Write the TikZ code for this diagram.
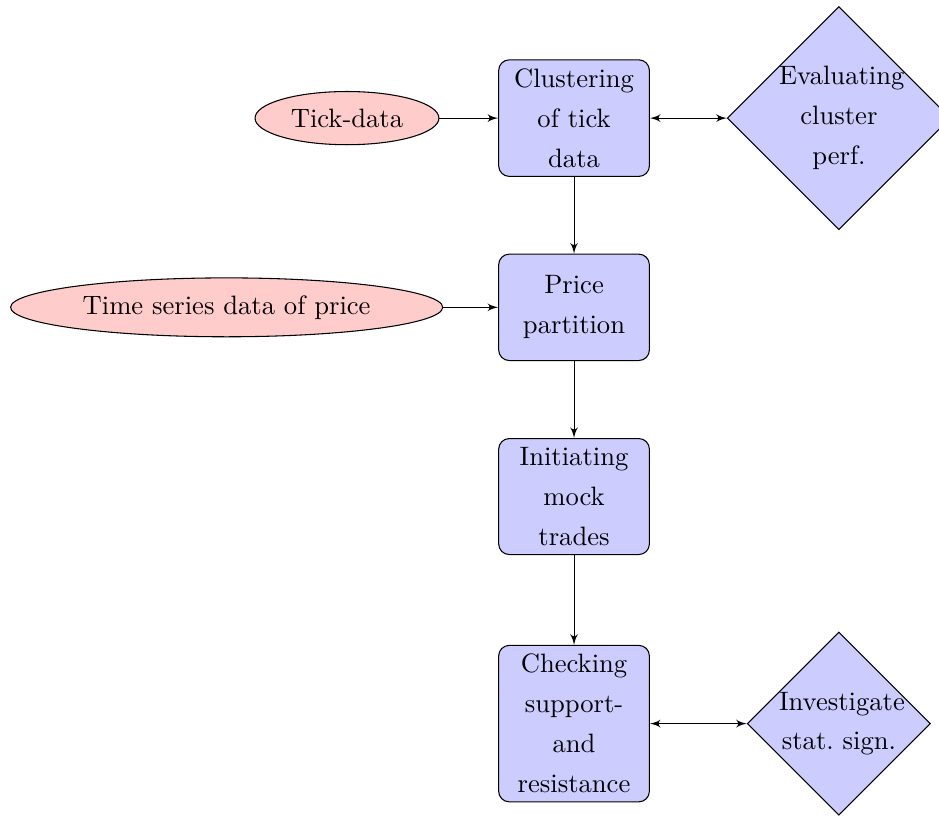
\documentclass[tikz,border=0pt]{standalone}
\usepackage[onehalfspacing]{setspace}
\usetikzlibrary{shapes.geometric,arrows,positioning}

% flowchart styles
\tikzset{
    block/.style={rectangle, draw, fill=blue!20, text width=5em, align=center,
        rounded corners, minimum height=4em},
    decision/.style={diamond, draw, fill=blue!20, text width=4.5em, align=center,
        inner sep=0pt},
    cloud/.style={draw, ellipse, fill=red!20, minimum height=2em},
    line/.style={draw, -latex'},
    twoway/.style={draw, latex'-latex'}
}

\begin{document}
\begin{tikzpicture}[node distance=2.5cm, on grid]
    \useasboundingbox (-215.8pt,-262pt) rectangle (137.2pt,44.4pt);
    % main column
    \node [block] (cluster) {Clustering of tick data};
    \node [block, below=of cluster] (partition) {Price partition};
    \node [block, below=of partition] (trades) {Initiating mock trades};
    \node [block, below=3cm of trades] (support) {Checking support- and resistance};
    % inputs
    \node [cloud, left=3cm of cluster] (tick) {Tick-data};
    \node [cloud, left=4.59cm of partition] (series) {Time series data of price};
    % checks
    \node [decision, right=3.5cm of cluster] (evaluate) {Evaluating cluster perf.};
    \node [decision, right=3.5cm of support] (stat) {Investigate stat.\ sign.};
    % edges
    \path [line] (tick) -- (cluster);
    \path [line] (series) -- (partition);
    \path [line] (cluster) -- (partition);
    \path [line] (partition) -- (trades);
    \path [line] (trades) -- (support);
    \path [twoway] (cluster) -- (evaluate);
    \path [twoway] (support) -- (stat);
\end{tikzpicture}
\end{document}
